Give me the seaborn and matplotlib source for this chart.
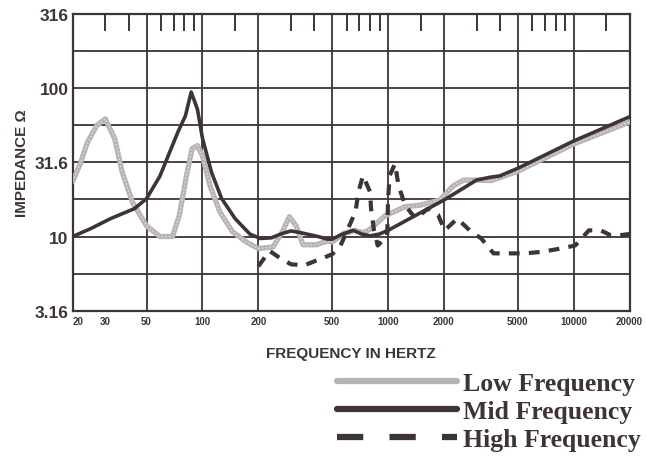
import matplotlib
matplotlib.use("Agg")
import matplotlib.pyplot as plt
from matplotlib.lines import Line2D
import seaborn as sns
import pandas as pd

sns.set_style("white")
plt.rcParams['font.family'] = ['Liberation Sans', 'DejaVu Sans']

# impedance curves (Hz, ohms)
low_freq = [20, 22, 24, 27, 30, 33.7, 37, 42, 50, 59, 69, 75, 82, 88, 94, 100, 110, 124, 145, 172, 200,
            240, 270, 294, 320, 348, 410, 470, 500, 577, 665, 740, 800, 965, 1240, 1470, 1900, 2240,
            2560, 3000, 3600, 5000, 10000, 20000]
low_imp = [23.5, 31, 43, 56, 62, 45.5, 27, 17, 11.8, 10, 10, 13.8, 25.6, 39, 41, 35, 21.9, 14.7, 10.8, 9.2, 8.3,
           8.5, 10.8, 13.6, 11.8, 8.8, 8.8, 9.3, 9.2, 10.5, 11, 10.6, 11.2, 13.8, 15.9, 16.2, 17.6, 21.9,
           24, 24, 23.8, 27.5, 42, 59]

mid_freq = [20, 25, 32, 43, 50, 59, 74, 81, 87, 94, 100, 112, 127, 150, 180, 205, 235, 270, 300, 340,
            420, 470, 500, 560, 650, 720, 800, 900, 1000, 2000, 3000, 3500, 4000, 5000, 10000, 20000]
mid_imp = [10, 11.3, 13.2, 15.4, 18, 25.5, 51, 65, 94, 72, 46, 27, 18, 13.2, 10.4, 9.7, 9.8, 10.5, 10.9, 10.6,
           10, 9.6, 9.6, 10.3, 11, 10.4, 10.1, 10.4, 11, 17.6, 24, 25, 25.6, 28.8, 44, 64]

high_freq = [200, 230, 260, 300, 354, 400, 463, 500, 555, 668, 693, 733, 800, 810, 840, 880, 990, 1000,
             1020, 1090, 1140, 1240, 1410, 1640, 1860, 2020, 2360, 2800, 3180, 3700, 4300, 5500, 6800,
             8500, 10200, 12070, 14000, 15800, 17700, 20000]
high_imp = [6.3, 8.0, 7.2, 6.5, 6.4, 6.8, 7.3, 7.6, 8.7, 14.7, 20, 25.7, 20, 15.4, 11, 8.7, 10.1, 17.6,
            25.7, 30.9, 21.9, 16.1, 13.2, 15.4, 14, 11, 13.2, 10.8, 9.7, 7.7, 7.7, 7.7, 7.9,
            8.3, 8.7, 11, 11, 10.2, 10.2, 10.4]

grid_x = [20, 50, 100, 200, 500, 1000, 2000, 5000, 10000, 20000]
label_x = ['20', '50', '100', '200', '500', '1000', '2000', '5000', '10000', '20000']
top_ticks = [30, 40, 60, 70, 80, 90, 150, 300, 400, 600, 700, 800, 900, 1500,
             3000, 4000, 6000, 7000, 8000, 9000, 15000]
grid_y = [3.16, 5.62, 10, 17.8, 31.6, 56.2, 100, 178, 316]
label_y = ['3.16', '', '10', '', '31.6', '', '100', '', '316']

ink = '#3e3335'
low_col = '#b8b4b4'

low_df = pd.DataFrame({'f': low_freq, 'z': low_imp})
mid_df = pd.DataFrame({'f': mid_freq, 'z': mid_imp})
high_df = pd.DataFrame({'f': high_freq, 'z': high_imp})

fig = plt.figure(figsize=(6.46, 4.64), dpi=100)
ax = fig.add_axes([0.1125, 0.328, 0.862, 0.64])

sns.lineplot(data=low_df, x='f', y='z', ax=ax, color=low_col, linewidth=3.8, sort=False, zorder=3)
sns.lineplot(data=low_df, x='f', y='z', ax=ax, color='#e4e0e0', linewidth=1.0, linestyle=':',
             sort=False, zorder=3)
sns.lineplot(data=mid_df, x='f', y='z', ax=ax, color=ink, linewidth=2.6, sort=False, zorder=4)
sns.lineplot(data=high_df, x='f', y='z', ax=ax, color=ink, linewidth=3, sort=False, zorder=4,
             linestyle=(0, (2.6, 2.2)))

ax.set_xscale('log')
ax.set_yscale('log')
ax.set_xlim(20, 20000)
ax.set_ylim(3.16, 316)

ax.set_xticks(grid_x, label_x)
ax.set_xticks([30], ['30'], minor=True)
ax.set_yticks(grid_y, label_y)
ax.yaxis.set_minor_locator(matplotlib.ticker.NullLocator())
ax.grid(True, which='major', color=ink, linewidth=1.3)
ax.tick_params(axis='x', which='both', length=0, pad=4, labelsize=7, colors=ink)
ax.tick_params(axis='y', which='both', length=0, pad=3, labelsize=12.5, colors=ink)
for t in ax.get_xticklabels(minor=True) + ax.get_xticklabels() + ax.get_yticklabels():
    t.set_fontweight('bold')
ax.get_xticklabels()[0].set_horizontalalignment('left')
for s in ax.spines.values():
    s.set_color(ink)
    s.set_linewidth(1.6)

top = ax.secondary_xaxis('top')
top.set_xticks(top_ticks, [''] * len(top_ticks))
top.xaxis.set_minor_locator(matplotlib.ticker.NullLocator())
top.tick_params(direction='in', length=12, width=1.4, colors=ink)
top.spines['top'].set_visible(False)

ax.set_xlabel('FREQUENCY IN HERTZ', fontsize=11, fontweight='bold', color=ink, labelpad=14)
ax.set_ylabel('IMPEDANCE \u03a9', fontsize=11, fontweight='bold', color=ink, labelpad=4)

handles = [Line2D([], [], color=low_col, linewidth=4.5),
           Line2D([], [], color=ink, linewidth=4.5),
           Line2D([], [], color=ink, linewidth=4.5, linestyle=(0, (4.2, 4.2)))]
fig.legend(handles, ['Low Frequency', 'Mid Frequency', 'High Frequency'],
           loc='upper right', bbox_to_anchor=(1.011, 0.224), frameon=False,
           handlelength=4.7, handletextpad=0.2, labelspacing=0.2, borderpad=0,
           prop={'family': 'Liberation Serif', 'weight': 'bold', 'size': 18.5},
           labelcolor=ink)

fig.savefig('out.png', dpi=100)
